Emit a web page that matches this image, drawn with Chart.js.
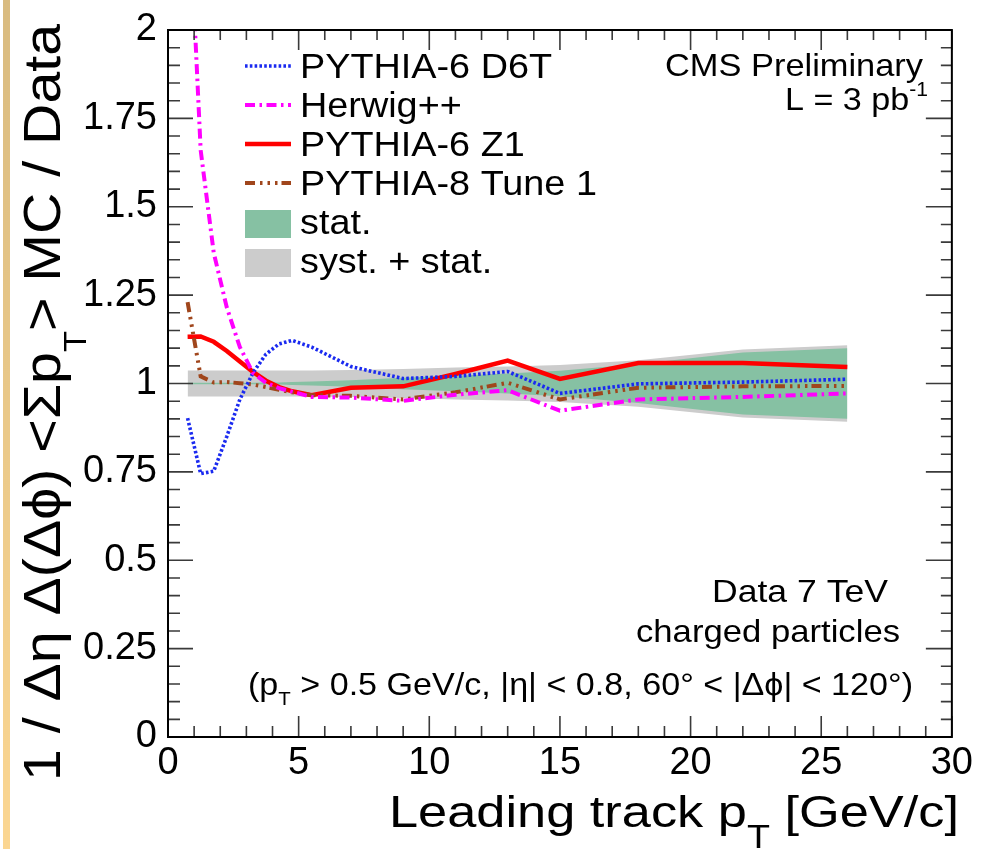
<!DOCTYPE html>
<html>
<head>
<meta charset="utf-8">
<title>MC / Data vs leading track pT</title>
<script src="https://cdn.jsdelivr.net/npm/chart.js@4.4.1/dist/chart.umd.min.js"></script>
<style>
  html, body { margin: 0; padding: 0; background: #fff; }
  #wrap { position: relative; width: 981px; height: 849px; }
  #strip { position: absolute; left: 3px; top: 0; width: 7px; height: 849px;
           background: linear-gradient(#d9bb80, #fbd692); }
</style>
</head>
<body>
<div id="wrap">
  <canvas id="ratio" width="981" height="849"></canvas>
  <div id="strip"></div>
</div>
<script>
// leading track pT (bin centres, GeV/c)
const ptBins = [0.75, 1.25, 1.75, 2.25, 2.75, 3.25, 3.75, 4.25, 4.75, 5.5, 7, 9, 11, 13, 15, 18, 22, 26];

// MC / Data ratios
const d6t    = [0.902, 0.745, 0.752, 0.850, 0.955, 1.030, 1.083, 1.112, 1.122, 1.103, 1.048, 1.014, 1.020, 1.034, 0.972, 0.999, 1.004, 1.012];
const herwig = [2.45, 1.66, 1.37, 1.215, 1.103, 1.030, 1.002, 0.987, 0.977, 0.962, 0.960, 0.951, 0.968, 0.981, 0.923, 0.955, 0.962, 0.972];
const z1     = [1.132, 1.133, 1.118, 1.092, 1.062, 1.033, 1.008, 0.990, 0.978, 0.967, 0.988, 0.992, 1.027, 1.065, 1.013, 1.058, 1.058, 1.047];
const tune1  = [1.230, 1.020, 1.003, 1.004, 1.001, 0.997, 0.990, 0.982, 0.975, 0.967, 0.965, 0.955, 0.975, 1.002, 0.955, 0.988, 0.992, 0.993];

// half widths of the data bands around 1
const statErr = [0.002, 0.002, 0.002, 0.002, 0.002, 0.002, 0.003, 0.003, 0.004, 0.006, 0.009, 0.016, 0.022, 0.028, 0.036, 0.055, 0.088, 0.100];
const totErr  = [0.037, 0.037, 0.037, 0.037, 0.037, 0.037, 0.037, 0.037, 0.037, 0.037, 0.038, 0.041, 0.045, 0.048, 0.052, 0.066, 0.096, 0.108];

const xTicks = [0, 5, 10, 15, 20, 25, 30];
const yTicks = [0, 0.25, 0.5, 0.75, 1, 1.25, 1.5, 1.75, 2];
const legendOrder = ['PYTHIA-6 D6T', 'Herwig++', 'PYTHIA-6 Z1', 'PYTHIA-8 Tune 1', 'stat.', 'syst. + stat.'];

const FONT = '"Liberation Sans", Arial, Helvetica, sans-serif';
Chart.defaults.font.family = FONT;
Chart.defaults.color = '#000';

const pts = arr => ptBins.map((x, i) => ({ x: x, y: arr[i] }));

function line(label, arr, color, width, dash) {
  return { label: label, data: pts(arr), borderColor: color, borderWidth: width,
           borderDash: dash, fill: false, pointRadius: 0, tension: 0, borderCapStyle: 'butt' };
}
function edge(vals) {
  return { label: '', data: pts(vals), borderWidth: 0, pointRadius: 0, fill: false };
}

// index 0 is drawn last (on top)
const datasets = [
  line('Herwig++', herwig, '#ff00ff', 4, [10, 4.5, 2.5, 4.5]),
  line('PYTHIA-6 D6T', d6t, '#1a2af0', 3.6, [2.6, 2.2]),
  line('PYTHIA-8 Tune 1', tune1, '#a0461c', 4, [10, 5, 2.5, 5, 2.5, 5, 2.5, 4]),
  line('PYTHIA-6 Z1', z1, '#ff0000', 4.5, []),
  edge(statErr.map(e => 1 - e)),
  Object.assign(edge(statErr.map(e => 1 + e)), { label: 'stat.', fill: '-1', backgroundColor: '#86c1a3' }),
  edge(totErr.map(e => 1 - e)),
  Object.assign(edge(totErr.map(e => 1 + e)), { label: 'syst. + stat.', fill: '-1', backgroundColor: '#cccccc' })
];

// text with sub/superscripts, optionally stretched to a given width
function runFont(size) { return size.toFixed(1) + 'px ' + FONT; }
function drawRich(ctx, runs, x, y, size, opt) {
  opt = opt || {};
  let w = 0;
  runs.forEach(r => {
    ctx.font = runFont(size * (r.s || 1));
    w += ctx.measureText(r.t).width;
  });
  const sx = opt.width ? opt.width / w : (opt.sx || 1);
  const total = w * sx;
  const x0 = opt.align === 'right' ? x - total : opt.align === 'center' ? x - total / 2 : x;
  ctx.save();
  ctx.translate(x0, y);
  ctx.scale(sx, 1);
  ctx.fillStyle = '#000';
  ctx.textBaseline = 'alphabetic';
  ctx.textAlign = 'left';
  let cx = 0;
  runs.forEach(r => {
    ctx.font = runFont(size * (r.s || 1));
    ctx.fillText(r.t, cx, size * (r.dy || 0));
    cx += ctx.measureText(r.t).width;
  });
  ctx.restore();
}

const frame = {
  id: 'frame',
  afterDatasetsDraw(chart) {
    const { ctx, chartArea: a, scales: { x, y } } = chart;
    ctx.save();
    ctx.strokeStyle = '#3a3a3a';
    ctx.lineWidth = 1.6;
    ctx.beginPath();
    for (let i = 0; i <= 30; i++) {
      const px = x.getPixelForValue(i);
      const big = i % 5 === 0;
      ctx.moveTo(px, a.bottom); ctx.lineTo(px, a.bottom - (big ? 21 : 11));
      ctx.moveTo(px, a.top); ctx.lineTo(px, a.top + (big ? 20 : 10));
    }
    for (let i = 0; i <= 40; i++) {
      const py = y.getPixelForValue(i * 0.05);
      const big = i % 5 === 0;
      ctx.moveTo(a.left, py); ctx.lineTo(a.left + (big ? 25 : 12), py);
      ctx.moveTo(a.right, py); ctx.lineTo(a.right - (big ? 26 : 11), py);
    }
    ctx.stroke();
    ctx.strokeStyle = '#000';
    ctx.lineWidth = 2;
    ctx.strokeRect(a.left, a.top, a.right - a.left, a.bottom - a.top);
    ctx.restore();
  }
};

const notes = {
  id: 'notes',
  afterDraw(chart) {
    const ctx = chart.ctx;
    const byLabel = {};
    chart.data.datasets.forEach(d => { if (d.label) byLabel[d.label] = d; });

    // legend
    legendOrder.forEach((name, i) => {
      const d = byLabel[name];
      const base = 78 + i * 39;
      if (d.fill) {
        ctx.fillStyle = d.backgroundColor;
        ctx.fillRect(245, base - 24, 46, 28);
      } else {
        ctx.save();
        ctx.strokeStyle = d.borderColor;
        ctx.lineWidth = d.borderWidth;
        ctx.setLineDash(d.borderDash);
        ctx.beginPath();
        ctx.moveTo(245, base - 12);
        ctx.lineTo(291, base - 12);
        ctx.stroke();
        ctx.restore();
      }
      drawRich(ctx, [{ t: name }], 300, base, 35, { sx: 1.08 });
    });

    drawRich(ctx, [{ t: 'CMS Preliminary' }], 665, 76, 32, { width: 258 });
    drawRich(ctx, [{ t: 'L = 3 pb' }, { t: '-1', s: 0.62, dy: -0.45 }], 785, 110, 32, { width: 143 });
    drawRich(ctx, [{ t: 'Data 7 TeV' }], 712, 602, 32, { width: 176 });
    drawRich(ctx, [{ t: 'charged particles' }], 636, 642, 32, { width: 264 });
    drawRich(ctx, [{ t: '(p' }, { t: 'T', s: 0.6, dy: 0.32 },
                   { t: ' > 0.5 GeV/c, |\u03b7| < 0.8, 60\u00b0 < |\u0394\u03d5| < 120\u00b0)' }],
             248, 695, 32, { width: 665 });

    // axis titles
    drawRich(ctx, [{ t: 'Leading track p' }, { t: 'T', s: 0.72, dy: 0.47 }, { t: ' [GeV/c]' }],
             959, 827, 45, { align: 'right', width: 570 });
    ctx.save();
    ctx.translate(60, 781);
    ctx.rotate(-Math.PI / 2);
    drawRich(ctx, [{ t: '1 / \u0394\u03b7 \u0394(\u0394\u03d5) <\u03a3p' }, { t: 'T', s: 0.6, dy: 0.5 },
                   { t: '> MC / Data' }], 0, 0, 52, { width: 757 });
    ctx.restore();
  }
};

new Chart(document.getElementById('ratio'), {
  type: 'line',
  data: { datasets: datasets },
  options: {
    responsive: false,
    animation: false,
    devicePixelRatio: 1,
    events: [],
    layout: { padding: { top: 21, right: 27, left: 0, bottom: 0 } },
    plugins: { legend: { display: false }, tooltip: { enabled: false } },
    scales: {
      x: {
        type: 'linear', min: 0, max: 30,
        afterBuildTicks: s => { s.ticks = xTicks.map(v => ({ value: v })); },
        afterFit: s => { s.height = 112; },
        grid: { display: false, drawTicks: false },
        border: { display: false },
        ticks: { font: { size: 38, lineHeight: 1 }, padding: 8, maxRotation: 0, autoSkip: false,
                 callback: v => String(v) }
      },
      y: {
        type: 'linear', min: 0, max: 2,
        afterBuildTicks: s => { s.ticks = yTicks.map(v => ({ value: v })); },
        afterFit: s => { s.width = 168; },
        grid: { display: false, drawTicks: false },
        border: { display: false },
        ticks: { font: { size: 38, lineHeight: 1 }, padding: 11, autoSkip: false,
                 callback: v => String(v) }
      }
    }
  },
  plugins: [frame, notes]
});
</script>
</body>
</html>
